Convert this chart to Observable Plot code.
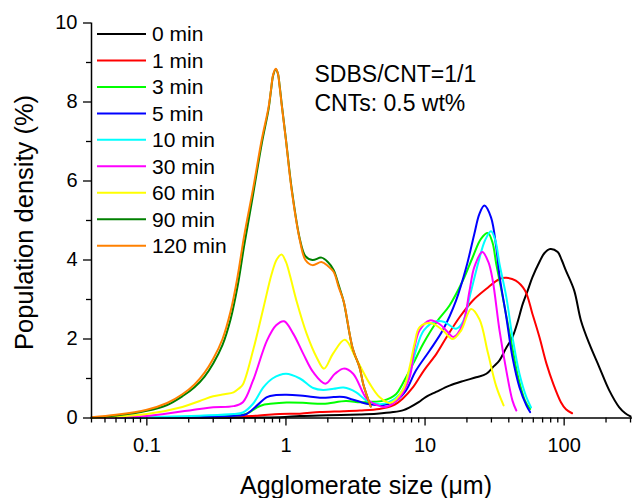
<!DOCTYPE html>
<html><head><meta charset="utf-8">
<script src="https://cdn.jsdelivr.net/npm/d3@7"></script>
<script src="https://cdn.jsdelivr.net/npm/@observablehq/plot@0.6"></script>
<style>
body{margin:0;background:#fff;}
#chart{position:relative;width:633px;height:498px;}
</style></head><body><div id="chart"></div>
<script>
// Series labels and colours
const seriesLabels = ["0 min","1 min","3 min","5 min","10 min","30 min","60 min","90 min","120 min"];
const seriesColors = ["#000000","#ff0000","#00ff00","#0000ff","#00ffff","#ff00ff","#ffff00","#008000","#ff8000"];

// [size (µm), population density (%)]
const min0 = [[0.04,0],[0.3,0.005],[0.9,0.02],[1.26,0.05],[2,0.07],[3.4,0.09],[4.5,0.11],[5.9,0.15],[7,0.2],[7.75,0.27],[9,0.4],[10.1,0.53],[12,0.66],[15,0.82],[19,0.94],[23.3,1.03],[27.6,1.12],[31,1.3],[34.3,1.46],[38,1.75],[42.5,2.05],[46,2.4],[50.4,2.89],[55,3.25],[59.1,3.56],[66.4,3.95],[72,4.17],[79.4,4.28],[89.9,4.2],[96,4.0],[103,3.73],[118,3.23],[132,2.47],[151.6,1.88],[178.8,1.29],[211,0.70],[249,0.27],[275,0.12],[300,0.04]];
const min1 = [[0.04,0],[0.2,0.02],[0.4,0.04],[0.62,0.06],[0.9,0.1],[1.26,0.11],[1.75,0.15],[2.6,0.17],[3.4,0.19],[4.7,0.23],[5.9,0.32],[6.9,0.49],[8.2,0.78],[9.8,1.2],[12.1,1.63],[14.3,2.05],[17.7,2.55],[22,2.97],[27.6,3.27],[34.3,3.52],[38.4,3.55],[44.9,3.48],[52.3,3.23],[59.1,2.64],[66.4,2.05],[74.7,1.37],[83.4,0.87],[94.8,0.4],[103,0.22],[114,0.12]];
const min3 = [[0.04,0],[0.1,0.01],[0.2,0.02],[0.42,0.06],[0.49,0.08],[0.55,0.15],[0.62,0.27],[0.7,0.34],[0.77,0.36],[1.01,0.39],[1.4,0.38],[1.85,0.36],[2.7,0.43],[3.4,0.40],[4.0,0.41],[5.0,0.44],[6.2,0.61],[6.9,0.87],[8.2,1.37],[9.7,1.88],[12.1,2.43],[15,2.85],[18.7,3.48],[22,4.07],[25.3,4.54],[28.3,4.68],[30.5,4.45],[32.5,3.9],[36.2,3.06],[41.5,1.96],[46.7,1.03],[52.3,0.44],[56.9,0.23]];
const min5 = [[0.04,0],[0.1,0.01],[0.3,0.03],[0.45,0.06],[0.52,0.1],[0.62,0.32],[0.73,0.53],[0.85,0.58],[1.01,0.59],[1.26,0.57],[1.57,0.53],[1.85,0.51],[2.2,0.53],[2.6,0.53],[3.0,0.47],[3.4,0.41],[3.8,0.36],[4.5,0.33],[5.0,0.33],[6.2,0.44],[7.3,0.70],[8.6,1.20],[10.8,1.71],[13.4,2.22],[16.7,2.97],[19.8,3.82],[22.6,4.66],[24.6,5.17],[26.7,5.38],[29.8,5.08],[32.5,4.32],[34.3,3.6],[38.4,2.55],[42.5,1.54],[47.7,0.78],[53.5,0.32],[56.9,0.15]];
const min10 = [[0.04,0],[0.1,0.02],[0.24,0.06],[0.42,0.1],[0.49,0.14],[0.58,0.36],[0.69,0.78],[0.8,1.0],[1.0,1.12],[1.26,1.0],[1.57,0.76],[1.85,0.71],[2.2,0.74],[2.6,0.77],[3.2,0.65],[3.8,0.44],[4.7,0.35],[5.5,0.4],[6.6,0.61],[7.75,1.12],[8.6,1.71],[9.8,2.22],[12.1,2.45],[13.8,2.43],[16.7,2.26],[18.7,2.43],[20.9,3.06],[24,3.90],[27,4.5],[29.8,4.73],[32,4.5],[34.3,3.90],[38.4,3.06],[42.5,2.05],[47.7,1.12],[53.5,0.53],[57.8,0.27]];
const min30 = [[0.04,0],[0.1,0.05],[0.24,0.23],[0.3,0.27],[0.42,0.30],[0.49,0.40],[0.58,0.95],[0.73,1.96],[0.85,2.35],[0.97,2.45],[1.13,2.13],[1.33,1.63],[1.57,1.16],[1.92,0.87],[2.25,1.12],[2.6,1.25],[3.04,1.12],[3.8,0.49],[4.5,0.33],[5.2,0.28],[6.6,0.53],[7.75,1.03],[8.4,1.79],[9.14,2.22],[10.8,2.47],[12.7,2.38],[14.6,2.17],[16,2.05],[18.7,2.38],[20.9,3.23],[22.6,3.82],[25.8,4.2],[28.5,3.95],[30.6,3.5],[34.3,2.22],[38.4,1.2],[42.5,0.44],[45.3,0.19]];
const min60 = [[0.04,0],[0.1,0.1],[0.18,0.28],[0.24,0.43],[0.3,0.55],[0.36,0.6],[0.42,0.65],[0.46,0.75],[0.49,0.85],[0.58,1.71],[0.69,2.8],[0.79,3.65],[0.86,4.02],[0.93,4.14],[1.0,3.95],[1.07,3.6],[1.19,2.97],[1.41,2.13],[1.66,1.54],[1.88,1.25],[2.18,1.63],[2.65,1.98],[3.2,1.5],[4.0,0.87],[4.7,0.53],[5.6,0.38],[6.9,0.70],[7.75,1.29],[8.4,1.88],[9.14,2.30],[11.1,2.40],[13.4,2.22],[15.8,2.0],[18.2,2.22],[21.4,2.76],[24.6,2.5],[28.3,1.65],[32.5,0.8],[36.7,0.32]];
const min90 = [[0.04,0.01],[0.06,0.06],[0.1,0.18],[0.14,0.33],[0.18,0.55],[0.22,0.78],[0.26,1.05],[0.3,1.38],[0.35,1.85],[0.4,2.5],[0.45,3.35],[0.5,4.35],[0.58,5.65],[0.67,6.95],[0.75,7.82],[0.78,8.28],[0.81,8.68],[0.845,8.83],[0.875,8.72],[0.9,8.42],[0.93,7.98],[1.0,7.05],[1.1,5.8],[1.26,4.52],[1.38,4.1],[1.55,4.0],[1.8,4.06],[2.0,3.95],[2.2,3.75],[2.4,3.35],[2.6,2.95],[3.0,1.8],[3.4,1.25],[3.6,0.85],[4.07,0.29]];
const min120 = [[0.04,0.02],[0.06,0.08],[0.1,0.21],[0.14,0.38],[0.18,0.6],[0.22,0.85],[0.26,1.15],[0.3,1.5],[0.35,2.0],[0.4,2.7],[0.45,3.6],[0.5,4.6],[0.58,5.8],[0.67,7.05],[0.75,7.87],[0.78,8.3],[0.81,8.7],[0.845,8.84],[0.875,8.72],[0.9,8.4],[0.93,7.95],[1.0,7.03],[1.1,5.76],[1.26,4.49],[1.38,4.0],[1.55,3.87],[1.8,3.95],[2.0,3.85],[2.2,3.7],[2.4,3.3],[2.6,2.95],[3.0,1.8],[3.4,1.25],[3.6,0.85],[4.07,0.29]];
const seriesData = [min0, min1, min3, min5, min10, min30, min60, min90, min120];

// Axis ticks
const xMajorTicks = [0.1, 1, 10, 100];
const xMinorTicks = [0.04,0.05,0.06,0.07,0.08,0.09,0.2,0.3,0.4,0.5,0.6,0.7,0.8,0.9,2,3,4,5,6,7,8,9,20,30,40,50,60,70,80,90,200,300];
const yMajorTicks = [0, 2, 4, 6, 8, 10];
const yMinorTicks = [1, 3, 5, 7, 9];

const xTitle = "Agglomerate size (\u03bcm)";
const yTitle = "Population density (%)";
const noteText = "SDBS/CNT=1/1\nCNTs: 0.5 wt%";

const rows = seriesData.flatMap((pts, i) => pts.map(([size, density]) => ({series: seriesLabels[i], size, density})));

const font = '"Liberation Sans", Arial, sans-serif';
const chart = Plot.plot({
  width: 633, height: 498,
  marginLeft: 91, marginRight: 1, marginTop: 22.5, marginBottom: 80.5,
  style: {fontFamily: font, fontSize: "20px", color: "#000", background: "#fff", overflow: "visible"},
  x: {type: "log", domain: [0.04, 310]},
  y: {domain: [0, 10]},
  color: {domain: seriesLabels, range: seriesColors},
  marks: [
    Plot.line(rows, {x: "size", y: "density", z: "series", stroke: "series", strokeWidth: 2, curve: "catmull-rom"}),
    Plot.axisX(xMajorTicks, {tickSize: 8, tickPadding: 12, tickFormat: d => String(d), strokeWidth: 1.3, label: null, fontSize: 20}),
    Plot.axisX(xMinorTicks, {tickSize: 5, tickFormat: () => "", strokeWidth: 1.3, label: null}),
    Plot.axisY(yMajorTicks, {tickSize: 8, tickPadding: 6, tickFormat: d => String(d), strokeWidth: 1.3, label: null, fontSize: 20}),
    Plot.axisY(yMinorTicks, {tickSize: 5, tickFormat: () => "", strokeWidth: 1.3, label: null}),
    Plot.ruleX([0.04], {strokeWidth: 1.5}),
    Plot.ruleY([0], {strokeWidth: 1.5}),
    Plot.text([yTitle], {text: d => d, frameAnchor: "left", rotate: -90, dx: -67, dy: 2, fontSize: 25.5, textAnchor: "middle", lineAnchor: "middle"}),
    Plot.text([xTitle], {text: d => d, frameAnchor: "bottom", dy: 67.5, dx: 4, fontSize: 25, textAnchor: "middle", lineAnchor: "middle"}),
    Plot.text([noteText], {text: d => d, frameAnchor: "top-left", dx: 223, dy: 38.5, fontSize: 23, textAnchor: "start", lineAnchor: "top", lineHeight: 1.27})
  ]
});
document.getElementById("chart").appendChild(chart);

// Legend inside the plot area (top-left)
const svg = d3.select(chart);
const leg = svg.append("g").attr("font-family", font).attr("font-size", 21).attr("text-anchor", "start");
seriesLabels.forEach((lab, i) => {
  const yy = 34 + 26.46 * i;
  leg.append("line").attr("x1", 97).attr("x2", 146).attr("y1", yy).attr("y2", yy)
    .attr("stroke", seriesColors[i]).attr("stroke-width", 2);
  leg.append("text").attr("x", 152).attr("y", yy).attr("dy", "0.35em").attr("fill", "#000").text(lab);
});
</script></body></html>
